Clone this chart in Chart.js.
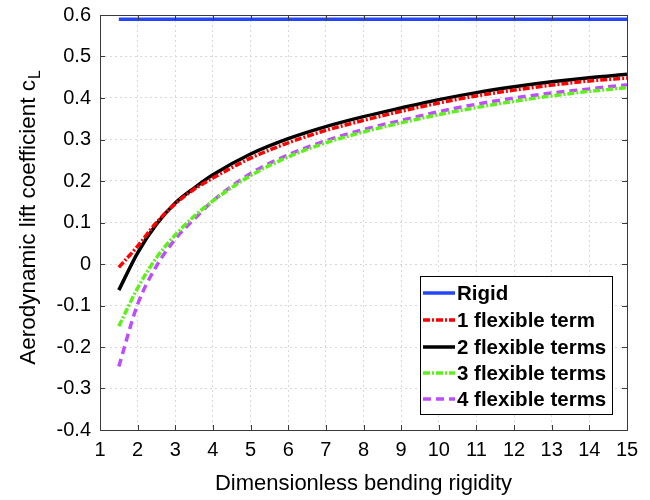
<!DOCTYPE html>
<html>
<head>
<meta charset="utf-8">
<script src="https://cdn.jsdelivr.net/npm/chart.js@4.4.0/dist/chart.umd.min.js"></script>
<style>
html,body{margin:0;padding:0;background:#fff;}
#wrap{width:650px;height:500px;position:relative;}
</style>
</head>
<body>
<div id="wrap"><canvas id="c" width="650" height="500"></canvas></div>
<script>
// ---- data ----
const xValues = [1.5, 2, 2.5, 3, 3.5, 4, 5, 6, 7, 8, 9, 10, 11, 12, 13, 14, 15];
const rigid   = [0.59, 0.59, 0.59, 0.59, 0.59, 0.59, 0.59, 0.59, 0.59, 0.59, 0.59, 0.59, 0.59, 0.59, 0.59, 0.59, 0.59];
const flex1   = [-0.008, 0.043, 0.100, 0.145, 0.180, 0.207, 0.255, 0.292, 0.322, 0.346, 0.368, 0.388, 0.405, 0.419, 0.431, 0.441, 0.448];
const flex2   = [-0.063, 0.027, 0.096, 0.147, 0.183, 0.215, 0.265, 0.302, 0.331, 0.355, 0.376, 0.396, 0.413, 0.427, 0.439, 0.449, 0.457];
const flex3   = [-0.150, -0.058, 0.015, 0.070, 0.115, 0.152, 0.213, 0.258, 0.292, 0.318, 0.340, 0.360, 0.377, 0.392, 0.405, 0.416, 0.425];
const flex4   = [-0.247, -0.097, -0.005, 0.060, 0.108, 0.152, 0.218, 0.263, 0.297, 0.324, 0.346, 0.367, 0.385, 0.400, 0.412, 0.422, 0.432];
const seriesLabels = ['Rigid', '1 flexible term', '2 flexible terms', '3 flexible terms', '4 flexible terms'];
const xTitle = 'Dimensionless bending rigidity';
const yTitleMain = 'Aerodynamic lift coefficient c';
const yTitleSub = 'L';

const FONT = '"Liberation Sans", Arial, Helvetica, sans-serif';
const pts = arr => xValues.map((x, i) => ({x: x, y: arr[i]}));

const styles = [
  {color: '#2446f5', dash: []},
  {color: '#ff0000', dash: [7, 2, 2, 2]},
  {color: '#000000', dash: []},
  {color: '#5ef01a', dash: [7, 2, 2, 2]},
  {color: '#bf4dff', dash: [8, 5]}
];
const allSeries = [rigid, flex1, flex2, flex3, flex4];

const datasets = allSeries.map((s, i) => ({
  label: seriesLabels[i],
  data: pts(s),
  borderColor: styles[i].color,
  backgroundColor: styles[i].color,
  borderDash: styles[i].dash,
  borderWidth: 3.5,
  pointRadius: 0,
  fill: false,
  cubicInterpolationMode: 'monotone'
}));

const boxPlugin = {
  id: 'matlabBox',
  afterDraw(chart) {
    const ctx = chart.ctx, a = chart.chartArea;
    const xs = chart.scales.x, ys = chart.scales.y;
    ctx.save();
    ctx.strokeStyle = '#3a3a3a';
    ctx.lineWidth = 1;
    ctx.setLineDash([]);
    ctx.strokeRect(Math.round(a.left) + 0.5, Math.round(a.top) + 0.5, Math.round(a.right - a.left), Math.round(a.bottom - a.top));
    const tl = 5;
    ctx.beginPath();
    xs.ticks.forEach(t => {
      const px = Math.round(xs.getPixelForValue(t.value)) + 0.5;
      ctx.moveTo(px, a.bottom); ctx.lineTo(px, a.bottom - tl);
      ctx.moveTo(px, a.top); ctx.lineTo(px, a.top + tl);
    });
    ys.ticks.forEach(t => {
      const py = Math.round(ys.getPixelForValue(t.value)) + 0.5;
      ctx.moveTo(a.left, py); ctx.lineTo(a.left + tl, py);
      ctx.moveTo(a.right, py); ctx.lineTo(a.right - tl, py);
    });
    ctx.stroke();

    // y title with subscript
    ctx.fillStyle = '#000';
    ctx.translate(35, 218);
    ctx.rotate(-Math.PI / 2);
    ctx.font = '22.5px ' + FONT;
    const w = ctx.measureText(yTitleMain).width;
    ctx.font = '16px ' + FONT;
    const ws = ctx.measureText(yTitleSub).width;
    const start = -(w + ws) / 2;
    ctx.textBaseline = 'alphabetic';
    ctx.textAlign = 'left';
    ctx.font = '22.5px ' + FONT;
    ctx.fillText(yTitleMain, start, 0);
    ctx.font = '16px ' + FONT;
    ctx.fillText(yTitleSub, start + w + 1, 5);
    ctx.restore();

    // legend
    ctx.save();
    const lx = 420, ly = 276, lw = 192, lh = 138;
    ctx.fillStyle = '#fff';
    ctx.fillRect(lx, ly, lw, lh);
    ctx.strokeStyle = '#000';
    ctx.lineWidth = 1;
    ctx.strokeRect(lx + 0.5, ly + 0.5, lw, lh);
    const rows = [293, 320, 347, 373, 399];
    chart.data.datasets.forEach((ds, i) => {
      ctx.strokeStyle = ds.borderColor;
      ctx.lineWidth = 3.5;
      ctx.setLineDash(ds.borderDash);
      ctx.beginPath();
      ctx.moveTo(423, rows[i]); ctx.lineTo(455, rows[i]);
      ctx.stroke();
      ctx.setLineDash([]);
      ctx.fillStyle = '#000';
      ctx.font = 'bold 20.5px ' + FONT;
      ctx.textBaseline = 'middle';
      ctx.textAlign = 'left';
      ctx.fillText(ds.label, 457, rows[i] + 1);
    });
    ctx.restore();
  }
};

new Chart(document.getElementById('c'), {
  type: 'line',
  data: {datasets: datasets},
  options: {
    responsive: false,
    animation: false,
    devicePixelRatio: 1,
    layout: {padding: {top: 15, right: 23, left: 0, bottom: 0}},
    plugins: {legend: {display: false}, tooltip: {enabled: false}},
    scales: {
      x: {
        type: 'linear', min: 1, max: 15,
        afterFit: s => { s.height = 70; s.paddingLeft = 0; s.paddingRight = 0; },
        ticks: {stepSize: 1, padding: 8, color: '#000', font: {family: FONT, size: 20}, maxRotation: 0, autoSkip: false},
        grid: {color: '#d8d8d8', drawTicks: false, lineWidth: 1},
        border: {display: false, dash: [2, 3]},
        title: {display: true, text: xTitle, color: '#000', font: {family: FONT, size: 22}, padding: {top: 0, bottom: 3}}
      },
      y: {
        type: 'linear', min: -0.4, max: 0.6,
        afterFit: s => { s.width = 100; s.paddingTop = 0; s.paddingBottom = 0; },
        ticks: {stepSize: 0.1, padding: 9, color: '#000', font: {family: FONT, size: 20, lineHeight: 1},
          callback: v => String(Number(v.toFixed(1)))},
        grid: {color: '#d8d8d8', drawTicks: false, lineWidth: 1},
        border: {display: false, dash: [2, 3]}
      }
    }
  },
  plugins: [boxPlugin]
});
</script>
</body>
</html>
